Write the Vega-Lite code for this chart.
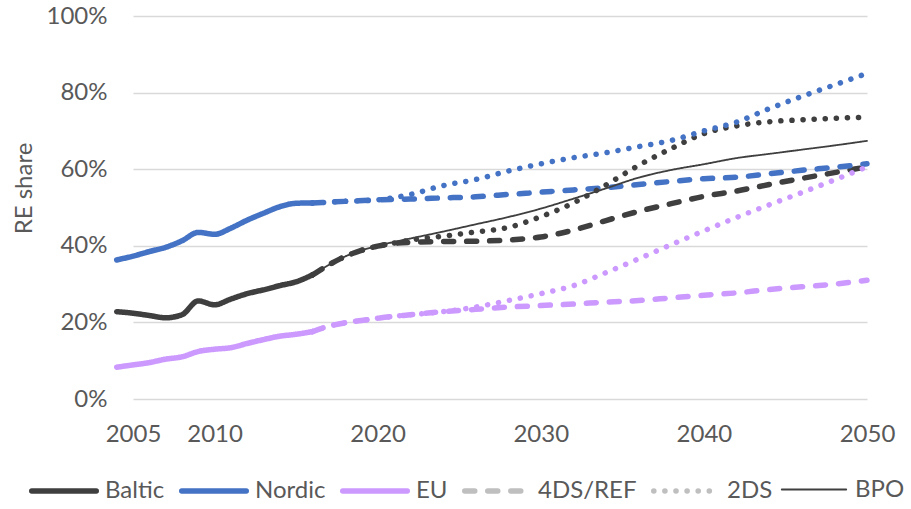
{
  "$schema": "https://vega.github.io/schema/vega-lite/v6.json",
  "width": 734,
  "height": 383,
  "autosize": {"type": "none"},
  "padding": {"left": 133, "top": 16, "right": 44, "bottom": 110},
  "background": "white",
  "config": {
    "view": {"stroke": null},
    "font": "Lato"
  },
  "data": {
    "values": [
      {"k": "Baltic", "y": 2004, "v": 22.8}, {"k": "Baltic", "y": 2005, "v": 22.4}, {"k": "Baltic", "y": 2006, "v": 21.8}, {"k": "Baltic", "y": 2007, "v": 21.2}, {"k": "Baltic", "y": 2008, "v": 22.0}, {"k": "Baltic", "y": 2009, "v": 25.6}, {"k": "Baltic", "y": 2010, "v": 24.6}, {"k": "Baltic", "y": 2011, "v": 26.1}, {"k": "Baltic", "y": 2012, "v": 27.5}, {"k": "Baltic", "y": 2013, "v": 28.5}, {"k": "Baltic", "y": 2014, "v": 29.6}, {"k": "Baltic", "y": 2015, "v": 30.6}, {"k": "Baltic", "y": 2016, "v": 32.4},
      {"k": "Nordic", "y": 2004, "v": 36.3}, {"k": "Nordic", "y": 2005, "v": 37.3}, {"k": "Nordic", "y": 2006, "v": 38.5}, {"k": "Nordic", "y": 2007, "v": 39.6}, {"k": "Nordic", "y": 2008, "v": 41.3}, {"k": "Nordic", "y": 2009, "v": 43.5}, {"k": "Nordic", "y": 2010, "v": 43.0}, {"k": "Nordic", "y": 2011, "v": 44.6}, {"k": "Nordic", "y": 2012, "v": 46.7}, {"k": "Nordic", "y": 2013, "v": 48.5}, {"k": "Nordic", "y": 2014, "v": 50.2}, {"k": "Nordic", "y": 2015, "v": 51.1}, {"k": "Nordic", "y": 2016, "v": 51.2},
      {"k": "EU", "y": 2004, "v": 8.3}, {"k": "EU", "y": 2005, "v": 8.9}, {"k": "EU", "y": 2006, "v": 9.5}, {"k": "EU", "y": 2007, "v": 10.4}, {"k": "EU", "y": 2008, "v": 11.0}, {"k": "EU", "y": 2009, "v": 12.4}, {"k": "EU", "y": 2010, "v": 13.0}, {"k": "EU", "y": 2011, "v": 13.4}, {"k": "EU", "y": 2012, "v": 14.5}, {"k": "EU", "y": 2013, "v": 15.5}, {"k": "EU", "y": 2014, "v": 16.4}, {"k": "EU", "y": 2015, "v": 16.9}, {"k": "EU", "y": 2016, "v": 17.6},

      {"k": "Baltic 4DS/REF", "y": 2016, "v": 32.4}, {"k": "Baltic 4DS/REF", "y": 2017, "v": 35.0}, {"k": "Baltic 4DS/REF", "y": 2018, "v": 37.2}, {"k": "Baltic 4DS/REF", "y": 2019, "v": 38.8}, {"k": "Baltic 4DS/REF", "y": 2020, "v": 39.9}, {"k": "Baltic 4DS/REF", "y": 2021, "v": 40.6}, {"k": "Baltic 4DS/REF", "y": 2022, "v": 40.9}, {"k": "Baltic 4DS/REF", "y": 2024, "v": 41.1}, {"k": "Baltic 4DS/REF", "y": 2026, "v": 41.2}, {"k": "Baltic 4DS/REF", "y": 2028, "v": 41.5}, {"k": "Baltic 4DS/REF", "y": 2030, "v": 42.3}, {"k": "Baltic 4DS/REF", "y": 2032, "v": 44.1}, {"k": "Baltic 4DS/REF", "y": 2034, "v": 46.6}, {"k": "Baltic 4DS/REF", "y": 2036, "v": 49.0}, {"k": "Baltic 4DS/REF", "y": 2038, "v": 51.0}, {"k": "Baltic 4DS/REF", "y": 2040, "v": 52.9}, {"k": "Baltic 4DS/REF", "y": 2042, "v": 54.3}, {"k": "Baltic 4DS/REF", "y": 2044, "v": 56.0}, {"k": "Baltic 4DS/REF", "y": 2046, "v": 57.6}, {"k": "Baltic 4DS/REF", "y": 2048, "v": 59.1}, {"k": "Baltic 4DS/REF", "y": 2050, "v": 60.6},

      {"k": "Nordic 4DS/REF", "y": 2016, "v": 51.2}, {"k": "Nordic 4DS/REF", "y": 2018, "v": 51.6}, {"k": "Nordic 4DS/REF", "y": 2020, "v": 52.0}, {"k": "Nordic 4DS/REF", "y": 2022, "v": 52.2}, {"k": "Nordic 4DS/REF", "y": 2024, "v": 52.5}, {"k": "Nordic 4DS/REF", "y": 2026, "v": 52.8}, {"k": "Nordic 4DS/REF", "y": 2028, "v": 53.4}, {"k": "Nordic 4DS/REF", "y": 2030, "v": 54.0}, {"k": "Nordic 4DS/REF", "y": 2032, "v": 54.6}, {"k": "Nordic 4DS/REF", "y": 2034, "v": 55.2}, {"k": "Nordic 4DS/REF", "y": 2036, "v": 56.0}, {"k": "Nordic 4DS/REF", "y": 2038, "v": 56.8}, {"k": "Nordic 4DS/REF", "y": 2040, "v": 57.5}, {"k": "Nordic 4DS/REF", "y": 2042, "v": 57.9}, {"k": "Nordic 4DS/REF", "y": 2044, "v": 58.8}, {"k": "Nordic 4DS/REF", "y": 2046, "v": 59.7}, {"k": "Nordic 4DS/REF", "y": 2048, "v": 60.5}, {"k": "Nordic 4DS/REF", "y": 2050, "v": 61.4},

      {"k": "EU 4DS/REF", "y": 2016, "v": 17.6}, {"k": "EU 4DS/REF", "y": 2017, "v": 19.0}, {"k": "EU 4DS/REF", "y": 2018, "v": 19.9}, {"k": "EU 4DS/REF", "y": 2019, "v": 20.5}, {"k": "EU 4DS/REF", "y": 2020, "v": 21.1}, {"k": "EU 4DS/REF", "y": 2022, "v": 22.0}, {"k": "EU 4DS/REF", "y": 2024, "v": 22.8}, {"k": "EU 4DS/REF", "y": 2026, "v": 23.4}, {"k": "EU 4DS/REF", "y": 2028, "v": 24.0}, {"k": "EU 4DS/REF", "y": 2030, "v": 24.4}, {"k": "EU 4DS/REF", "y": 2032, "v": 24.8}, {"k": "EU 4DS/REF", "y": 2034, "v": 25.3}, {"k": "EU 4DS/REF", "y": 2036, "v": 25.7}, {"k": "EU 4DS/REF", "y": 2038, "v": 26.4}, {"k": "EU 4DS/REF", "y": 2040, "v": 27.1}, {"k": "EU 4DS/REF", "y": 2042, "v": 27.7}, {"k": "EU 4DS/REF", "y": 2044, "v": 28.6}, {"k": "EU 4DS/REF", "y": 2046, "v": 29.3}, {"k": "EU 4DS/REF", "y": 2048, "v": 30.0}, {"k": "EU 4DS/REF", "y": 2050, "v": 31.0},

      {"k": "Baltic BPO", "y": 2016, "v": 32.4}, {"k": "Baltic BPO", "y": 2017, "v": 35.0}, {"k": "Baltic BPO", "y": 2018, "v": 37.2}, {"k": "Baltic BPO", "y": 2019, "v": 38.8}, {"k": "Baltic BPO", "y": 2020, "v": 40.0}, {"k": "Baltic BPO", "y": 2021, "v": 41.0}, {"k": "Baltic BPO", "y": 2022, "v": 41.9}, {"k": "Baltic BPO", "y": 2024, "v": 43.7}, {"k": "Baltic BPO", "y": 2026, "v": 45.6}, {"k": "Baltic BPO", "y": 2028, "v": 47.5}, {"k": "Baltic BPO", "y": 2030, "v": 49.7}, {"k": "Baltic BPO", "y": 2032, "v": 52.3}, {"k": "Baltic BPO", "y": 2034, "v": 55.0}, {"k": "Baltic BPO", "y": 2036, "v": 57.8}, {"k": "Baltic BPO", "y": 2038, "v": 59.8}, {"k": "Baltic BPO", "y": 2040, "v": 61.3}, {"k": "Baltic BPO", "y": 2042, "v": 62.9}, {"k": "Baltic BPO", "y": 2044, "v": 64.0}, {"k": "Baltic BPO", "y": 2046, "v": 65.1}, {"k": "Baltic BPO", "y": 2048, "v": 66.2}, {"k": "Baltic BPO", "y": 2050, "v": 67.4},

      {"k": "Baltic 2DS", "y": 2016, "v": 32.4}, {"k": "Baltic 2DS", "y": 2017, "v": 35.0}, {"k": "Baltic 2DS", "y": 2018, "v": 37.2}, {"k": "Baltic 2DS", "y": 2019, "v": 38.8}, {"k": "Baltic 2DS", "y": 2020, "v": 39.9}, {"k": "Baltic 2DS", "y": 2021, "v": 40.7}, {"k": "Baltic 2DS", "y": 2022, "v": 41.5}, {"k": "Baltic 2DS", "y": 2024, "v": 42.5}, {"k": "Baltic 2DS", "y": 2026, "v": 43.6}, {"k": "Baltic 2DS", "y": 2028, "v": 44.8}, {"k": "Baltic 2DS", "y": 2030, "v": 47.6}, {"k": "Baltic 2DS", "y": 2032, "v": 51.2}, {"k": "Baltic 2DS", "y": 2034, "v": 55.9}, {"k": "Baltic 2DS", "y": 2036, "v": 61.0}, {"k": "Baltic 2DS", "y": 2038, "v": 65.4}, {"k": "Baltic 2DS", "y": 2040, "v": 69.3}, {"k": "Baltic 2DS", "y": 2042, "v": 71.3}, {"k": "Baltic 2DS", "y": 2044, "v": 72.4}, {"k": "Baltic 2DS", "y": 2046, "v": 72.9}, {"k": "Baltic 2DS", "y": 2048, "v": 73.3}, {"k": "Baltic 2DS", "y": 2050, "v": 73.6},

      {"k": "Nordic 2DS", "y": 2016, "v": 51.2}, {"k": "Nordic 2DS", "y": 2018, "v": 51.6}, {"k": "Nordic 2DS", "y": 2020, "v": 52.0}, {"k": "Nordic 2DS", "y": 2022, "v": 53.4}, {"k": "Nordic 2DS", "y": 2024, "v": 55.7}, {"k": "Nordic 2DS", "y": 2026, "v": 57.3}, {"k": "Nordic 2DS", "y": 2028, "v": 59.5}, {"k": "Nordic 2DS", "y": 2030, "v": 61.4}, {"k": "Nordic 2DS", "y": 2032, "v": 63.0}, {"k": "Nordic 2DS", "y": 2034, "v": 64.3}, {"k": "Nordic 2DS", "y": 2036, "v": 65.9}, {"k": "Nordic 2DS", "y": 2038, "v": 67.5}, {"k": "Nordic 2DS", "y": 2040, "v": 70.0}, {"k": "Nordic 2DS", "y": 2042, "v": 72.3}, {"k": "Nordic 2DS", "y": 2044, "v": 75.8}, {"k": "Nordic 2DS", "y": 2046, "v": 79.0}, {"k": "Nordic 2DS", "y": 2048, "v": 82.0}, {"k": "Nordic 2DS", "y": 2050, "v": 85.0},

      {"k": "EU 2DS", "y": 2016, "v": 17.6}, {"k": "EU 2DS", "y": 2017, "v": 19.0}, {"k": "EU 2DS", "y": 2018, "v": 19.9}, {"k": "EU 2DS", "y": 2019, "v": 20.5}, {"k": "EU 2DS", "y": 2020, "v": 21.1}, {"k": "EU 2DS", "y": 2022, "v": 22.0}, {"k": "EU 2DS", "y": 2024, "v": 22.8}, {"k": "EU 2DS", "y": 2026, "v": 24.0}, {"k": "EU 2DS", "y": 2028, "v": 25.7}, {"k": "EU 2DS", "y": 2030, "v": 27.5}, {"k": "EU 2DS", "y": 2032, "v": 29.6}, {"k": "EU 2DS", "y": 2034, "v": 33.0}, {"k": "EU 2DS", "y": 2036, "v": 36.6}, {"k": "EU 2DS", "y": 2038, "v": 40.3}, {"k": "EU 2DS", "y": 2040, "v": 43.9}, {"k": "EU 2DS", "y": 2042, "v": 47.4}, {"k": "EU 2DS", "y": 2044, "v": 50.7}, {"k": "EU 2DS", "y": 2046, "v": 53.9}, {"k": "EU 2DS", "y": 2048, "v": 57.2}, {"k": "EU 2DS", "y": 2050, "v": 60.6}
    ]
  },
  "mark": {"type": "line", "interpolate": "monotone", "strokeCap": "round", "strokeJoin": "round"},
  "encoding": {
    "x": {
      "field": "y", "type": "quantitative",
      "scale": {"domain": [2005, 2050], "nice": false, "zero": false},
      "axis": {
        "title": null, "values": [2005, 2010, 2020, 2030, 2040, 2050], "format": "d",
        "grid": false, "domain": false, "ticks": false, "labelFlush": false, "labelOverlap": false,
        "labelPadding": 23, "labelFont": "Lato", "labelFontSize": 24, "labelColor": "#595959"
      }
    },
    "y": {
      "field": "v", "type": "quantitative",
      "scale": {"domain": [0, 100], "nice": false},
      "axis": {
        "title": "RE share", "values": [0, 20, 40, 60, 80, 100], "labelExpr": "datum.value + '%'",
        "grid": true, "gridColor": "#D9D9D9", "gridWidth": 1.5, "domain": false, "ticks": false,
        "labelPadding": 26, "labelFont": "Lato", "labelFontSize": 24, "labelColor": "#595959",
        "titleFont": "Lato", "titleFontSize": 24, "titleFontWeight": "normal", "titleColor": "#595959",
        "titleAngle": -90, "titleAlign": "center", "titleBaseline": "alphabetic", "titleX": -102, "titleY": 172
      }
    },
    "color": {
      "field": "k", "type": "nominal",
      "scale": {
        "domain": ["Baltic", "Nordic", "EU", "4DS/REF", "2DS", "BPO", "Baltic 4DS/REF", "Nordic 4DS/REF", "EU 4DS/REF", "Baltic BPO", "Baltic 2DS", "Nordic 2DS", "EU 2DS"],
        "range": ["#3F3F3F", "#4472C4", "#CC99FF", "#BFBFBF", "#BFBFBF", "#3F3F3F", "#3F3F3F", "#4472C4", "#CC99FF", "#3F3F3F", "#3F3F3F", "#4472C4", "#CC99FF"]
      },
      "legend": {
        "values": ["Baltic", "Nordic", "EU", "4DS/REF", "2DS", "BPO"],
        "title": null, "orient": "none", "direction": "horizontal", "columns": 6, "gridAlign": "none",
        "legendX": -104, "legendY": 440, "padding": 0,
        "symbolType": "stroke", "symbolSize": 4160, "labelOffset": 6, "columnPadding": 5,
        "labelFont": "Lato", "labelFontSize": 24, "labelColor": "#595959", "labelLimit": 300,
        "encode": {"symbols": {"update": {"strokeCap": {"value": "round"}}}}
      }
    },
    "strokeDash": {
      "field": "k", "type": "nominal",
      "scale": {
        "type": "ordinal",
        "domain": ["Baltic", "Nordic", "EU", "4DS/REF", "2DS", "BPO", "Baltic 4DS/REF", "Nordic 4DS/REF", "EU 4DS/REF", "Baltic BPO", "Baltic 2DS", "Nordic 2DS", "EU 2DS"],
        "range": [[1, 0], [1, 0], [1, 0], [10, 13], [0.1, 11], [1, 0], [10, 13], [10, 13], [10, 13], [1, 0], [0.1, 11], [0.1, 11], [0.1, 11]]
      },
      "legend": {
        "values": ["Baltic", "Nordic", "EU", "4DS/REF", "2DS", "BPO"],
        "title": null, "orient": "none", "direction": "horizontal", "columns": 6, "gridAlign": "none",
        "legendX": -104, "legendY": 440, "padding": 0,
        "symbolType": "stroke", "symbolSize": 4160, "labelOffset": 6, "columnPadding": 5,
        "labelFont": "Lato", "labelFontSize": 24, "labelColor": "#595959", "labelLimit": 300,
        "encode": {"symbols": {"update": {"strokeCap": {"value": "round"}}}}
      }
    },
    "strokeWidth": {
      "field": "k", "type": "nominal",
      "scale": {
        "type": "ordinal",
        "domain": ["Baltic", "Nordic", "EU", "4DS/REF", "2DS", "BPO", "Baltic 4DS/REF", "Nordic 4DS/REF", "EU 4DS/REF", "Baltic BPO", "Baltic 2DS", "Nordic 2DS", "EU 2DS"],
        "range": [5.5, 5.5, 5.5, 5.5, 5.5, 1.8, 5.5, 5.5, 5.5, 1.8, 5.5, 5.5, 5.5]
      },
      "legend": {
        "values": ["Baltic", "Nordic", "EU", "4DS/REF", "2DS", "BPO"],
        "title": null, "orient": "none", "direction": "horizontal", "columns": 6, "gridAlign": "none",
        "legendX": -104, "legendY": 440, "padding": 0,
        "symbolType": "stroke", "symbolSize": 4160, "labelOffset": 6, "columnPadding": 5,
        "labelFont": "Lato", "labelFontSize": 24, "labelColor": "#595959", "labelLimit": 300,
        "encode": {"symbols": {"update": {"strokeCap": {"value": "round"}}}}
      }
    }
  }
}
